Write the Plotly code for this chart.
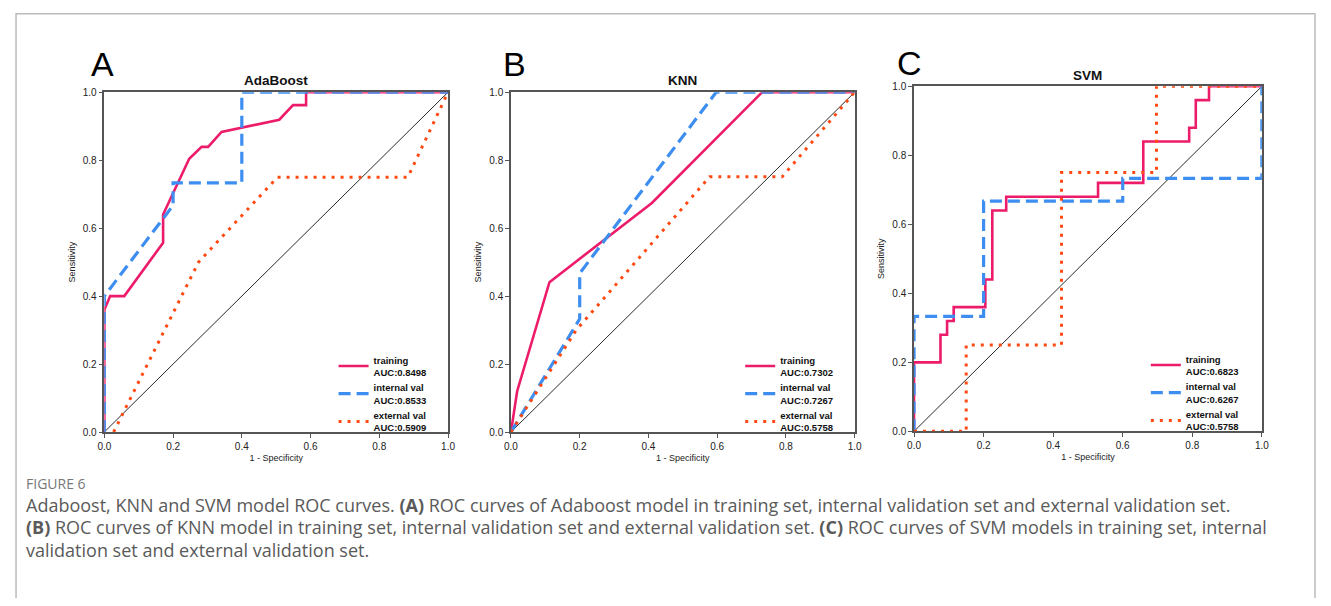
import plotly.graph_objects as go

# The page body keeps the browser's 8px margin, so the figure is 16px smaller
# than the window and every reference pixel position is shifted by 8px.
OFF = 8
W, H = 1331 - 2 * OFF, 606 - 2 * OFF

# ---------------- data ----------------
# Panel A: AdaBoost
ada_train_fpr = [0, 0, 0.017, 0.058, 0.171, 0.171, 0.247, 0.283, 0.302, 0.341, 0.509, 0.549, 0.587, 0.587, 1.0]
ada_train_tpr = [0, 0.36, 0.40, 0.40, 0.557, 0.64, 0.804, 0.839, 0.839, 0.883, 0.919, 0.962, 0.962, 1.0, 1.0]
ada_int_fpr = [0, 0, 0.2, 0.2, 0.4, 0.4, 1.0]
ada_int_tpr = [0, 0.40, 0.667, 0.733, 0.733, 1.0, 1.0]
ada_ext_fpr = [0.027, 0.274, 0.504, 0.883, 1.0]
ada_ext_tpr = [0, 0.50, 0.75, 0.75, 1.0]

# Panel B: KNN
knn_train_fpr = [0, 0.018, 0.112, 0.41, 0.731, 1.0]
knn_train_tpr = [0, 0.12, 0.441, 0.674, 1.0, 1.0]
knn_int_fpr = [0, 0.2, 0.2, 0.597, 1.0]
knn_int_tpr = [0, 0.333, 0.467, 1.0, 1.0]
knn_ext_fpr = [0, 0.19, 0.578, 0.789, 1.0]
knn_ext_tpr = [0, 0.30, 0.751, 0.751, 1.0]

# Panel C: SVM
svm_train_fpr = [0, 0, 0.076, 0.076, 0.095, 0.095, 0.114, 0.114, 0.205, 0.205, 0.225, 0.225,
                 0.265, 0.265, 0.529, 0.529, 0.659, 0.659, 0.791, 0.791, 0.81, 0.81, 0.848, 0.848, 1.0]
svm_train_tpr = [0, 0.2, 0.2, 0.28, 0.28, 0.32, 0.32, 0.36, 0.36, 0.44, 0.44, 0.64,
                 0.64, 0.68, 0.68, 0.72, 0.72, 0.84, 0.84, 0.88, 0.88, 0.96, 0.96, 1.0, 1.0]
svm_int_fpr = [0, 0, 0.2, 0.2, 0.6, 0.6, 1.0, 1.0]
svm_int_tpr = [0, 0.333, 0.333, 0.667, 0.667, 0.733, 0.733, 1.0]
svm_ext_fpr = [0, 0.15, 0.15, 0.424, 0.424, 0.697, 0.697, 1.0]
svm_ext_tpr = [0, 0, 0.25, 0.25, 0.75, 0.75, 1.0, 1.0]

diag = [0, 1]

panel_letters = ["A", "B", "C"]
panel_titles = ["AdaBoost", "KNN", "SVM"]
series_names = ["training", "internal val", "external val"]
auc_values = [["0.8498", "0.8533", "0.5909"],
              ["0.7302", "0.7267", "0.5758"],
              ["0.6823", "0.6267", "0.5758"]]
tick_vals = [0, 0.2, 0.4, 0.6, 0.8, 1.0]

caption_head = "FIGURE 6"
caption_lines = [
    "Adaboost, KNN and SVM model ROC curves. <b>(A)</b> ROC curves of Adaboost model in training set, internal validation set and external validation set.",
    "<b>(B)</b> ROC curves of KNN model in training set, internal validation set and external validation set. <b>(C)</b> ROC curves of SVM models in training set, internal",
    "validation set and external validation set.",
]

panels = [
    [(ada_train_fpr, ada_train_tpr), (ada_int_fpr, ada_int_tpr), (ada_ext_fpr, ada_ext_tpr)],
    [(knn_train_fpr, knn_train_tpr), (knn_int_fpr, knn_int_tpr), (knn_ext_fpr, knn_ext_tpr)],
    [(svm_train_fpr, svm_train_tpr), (svm_int_fpr, svm_int_tpr), (svm_ext_fpr, svm_ext_tpr)],
]

# ---------------- styling / layout (reference pixel positions) ----------------
def px(x):
    return (x - OFF) / W

def py(y):
    return 1 - (y - OFF) / H

boxes = [(98.3, 445.7, 88.7, 435.0), (509.3, 856.7, 88.7, 435.0), (916.7, 1268.3, 82.7, 434.3)]
letter_pos = [(96, 60), (513, 60), (912, 59)]
title_pos = [77, 77, 72]
legend_pos = [(330, 348.5), (741, 348.5), (1151, 347.5)]

line_styles = [
    dict(color="#EC1C6B", width=2.6, dash="solid"),
    dict(color="#3D8EF0", width=3.2, dash="12px,6px"),
    dict(color="#FF4A12", width=3.0, dash="3px,6px"),
]

fig = go.Figure()
axis_font = dict(family="Arial, Liberation Sans, sans-serif", size=10, color="#222")

for i in range(3):
    n = "" if i == 0 else str(i + 1)
    xa, ya = "x" + n, "y" + n
    leg = "legend" + n
    fig.add_trace(go.Scatter(x=diag, y=diag, mode="lines", xaxis=xa, yaxis=ya,
                             line=dict(color="#111", width=0.9), showlegend=False,
                             hoverinfo="skip", cliponaxis=False))
    for j in range(3):
        fx, ty = panels[i][j]
        fig.add_trace(go.Scatter(
            x=fx, y=ty, mode="lines", xaxis=xa, yaxis=ya, legend=leg,
            name="<b>%s<br>AUC:%s</b>" % (series_names[j], auc_values[i][j]),
            line=line_styles[j], cliponaxis=False))
    l, r, t, b = boxes[i]
    axcommon = dict(range=[0, 1], tickvals=tick_vals, tickformat=".1f", ticks="outside",
                    ticklen=4, tickcolor="#555", showline=True, linecolor="#555",
                    linewidth=1.5, mirror=True, showgrid=False, zeroline=False,
                    tickfont=axis_font, layer="below traces", fixedrange=True)
    fig.layout["xaxis" + n] = dict(domain=[px(l), px(r)], anchor=ya,
                                   title=dict(text="1 - Specificity", font=dict(family="Arial", size=9, color="#222"), standoff=4),
                                   **axcommon)
    fig.layout["yaxis" + n] = dict(domain=[py(b), py(t)], anchor=xa,
                                   title=dict(text="Sensitivity", font=dict(family="Arial", size=9, color="#222"), standoff=6),
                                   **axcommon)
    lx, ly = legend_pos[i]
    fig.layout[leg] = dict(x=px(lx), y=py(ly), xanchor="left", yanchor="top",
                           bgcolor="rgba(0,0,0,0)", borderwidth=0, tracegroupgap=0,
                           font=dict(family="Arial", size=9.5, color="#111"),
                           itemwidth=30)
    fig.add_annotation(x=px(letter_pos[i][0]), y=py(letter_pos[i][1]), xref="paper", yref="paper",
                       text=panel_letters[i], showarrow=False, xanchor="center", yanchor="middle",
                       font=dict(family="Arial", size=34, color="#000"))
    fig.add_annotation(x=px((l + r) / 2), y=py(title_pos[i]), xref="paper", yref="paper",
                       text="<b>%s</b>" % panel_titles[i], showarrow=False, xanchor="center", yanchor="middle",
                       font=dict(family="Arial", size=13.5, color="#111"))

# caption
fig.add_annotation(x=px(17), y=py(487), xref="paper", yref="paper", text=caption_head,
                   showarrow=False, xanchor="left", yanchor="middle",
                   font=dict(family="Open Sans", size=14, color="#777"))
for txt, yy in zip(caption_lines, [509, 532, 555]):
    fig.add_annotation(x=px(17), y=py(yy), xref="paper", yref="paper", text=txt,
                       showarrow=False, xanchor="left", yanchor="middle",
                       font=dict(family="Open Sans", size=18, color="#5A5A5A"))

# outer frame (left, top and right edges)
fig.add_shape(type="path", xref="paper", yref="paper",
              path="M %f,%f L %f,%f L %f,%f L %f,%f" % (0.0008, -0.05, 0.0008, 0.9988,
                                                          0.9992, 0.9988, 0.9992, -0.05),
              line=dict(color="#BBBBBB", width=1.5))

fig.update_layout(width=W, height=H, margin=dict(l=0, r=0, t=0, b=0),
                  paper_bgcolor="white", plot_bgcolor="white", autosize=False,
                  showlegend=True)

fig.write_html("out.html", config={"displayModeBar": False})
